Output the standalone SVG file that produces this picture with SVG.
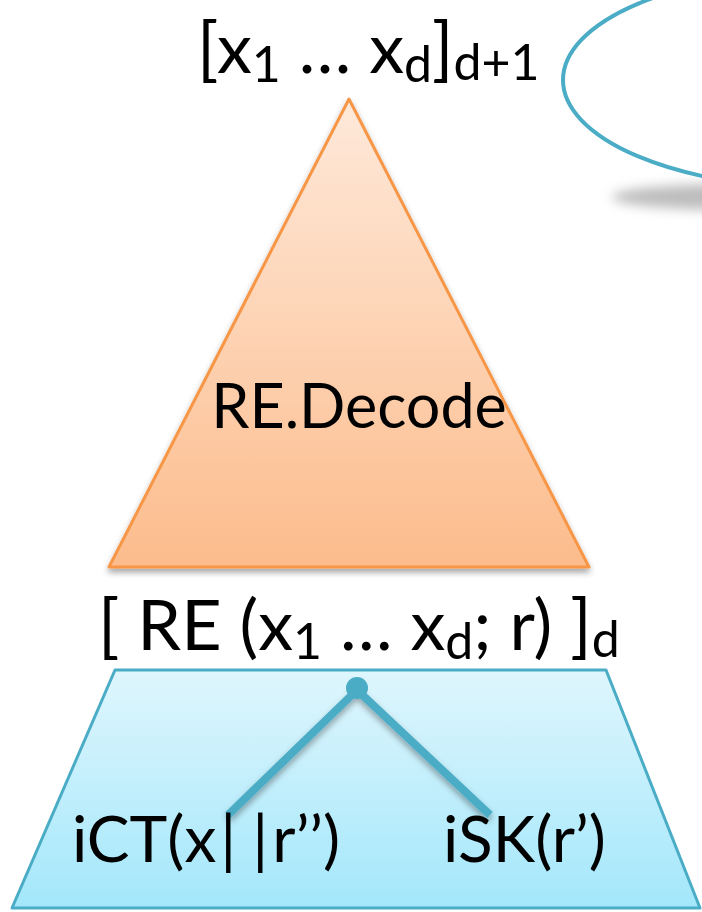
<svg xmlns="http://www.w3.org/2000/svg" width="702" height="912" viewBox="0 0 702 912">
<defs>
<linearGradient id="gOr" x1="0" y1="0" x2="0" y2="1">
<stop offset="0" stop-color="#FEE9DA"/>
<stop offset="1" stop-color="#FCBC8C"/>
</linearGradient>
<linearGradient id="gBl" x1="0" y1="0" x2="0" y2="1">
<stop offset="0" stop-color="#DFF6FD"/>
<stop offset="1" stop-color="#A3E7FB"/>
</linearGradient>
<filter id="sh" x="-10%" y="-10%" width="120%" height="130%">
<feDropShadow dx="0" dy="4" stdDeviation="3" flood-color="#000" flood-opacity="0.35"/>
</filter>
<filter id="blur" x="-50%" y="-100%" width="200%" height="300%">
<feGaussianBlur stdDeviation="6"/>
</filter>
</defs>
<style>
text{font-family:Lato,"Open Sans","Liberation Sans",sans-serif;fill:#000;}
tspan{fill:#000;}
.big{font-size:70px;}
.dec{font-size:61px;}
.leaf{font-size:64px;}
.sub{font-size:50px;}
</style>
<g id="shadowblob">
<ellipse cx="730" cy="197" rx="118" ry="13" fill="#bdbdbd" filter="url(#blur)"/>
</g>
<g id="ellipse">
<ellipse cx="820" cy="80" rx="257" ry="108" fill="none" stroke="#4BACC6" stroke-width="4"/>
</g>
<g id="top-label">
<text class="big" x="197" y="73">[x<tspan class="sub" dy="9">1</tspan><tspan dy="-9"> … x</tspan><tspan class="sub" dy="9">d</tspan><tspan dy="-9">]</tspan><tspan class="sub" dy="7">d+1</tspan></text>
</g>
<g id="decode">
<polygon points="349,99 589,567 109,567" fill="url(#gOr)" stroke="#F79646" stroke-width="3" stroke-linejoin="round" filter="url(#sh)"/>
<text class="dec" x="359" y="428" text-anchor="middle">RE.Decode</text>
</g>
<g id="mid-label">
<text class="big" x="98" y="650">[ RE (x<tspan class="sub" dy="9">1</tspan><tspan dy="-9"> … x</tspan><tspan class="sub" dy="9">d</tspan><tspan dy="-9">; r) ]</tspan><tspan class="sub" dy="7">d</tspan></text>
</g>
<g id="trap">
<polygon points="115,670 606,670 700,908 12,908" fill="url(#gBl)" stroke="#4BACC6" stroke-width="3" stroke-linejoin="round"/>
</g>
<g id="connectors" filter="url(#sh)">
<line x1="357" y1="690" x2="228" y2="815" stroke="#4BACC6" stroke-width="8"/>
<line x1="357" y1="690" x2="490" y2="815" stroke="#4BACC6" stroke-width="8"/>
</g>
<g id="root-node">
<ellipse cx="357" cy="688" rx="11" ry="11" fill="#4BACC6"/>
</g>
<g id="leaf-ict">
<text class="leaf" x="72" y="862">iCT(x<tspan dx="4">|</tspan><tspan dx="16">|</tspan><tspan dx="4">r’’)</tspan></text>
</g>
<g id="leaf-isk">
<text class="leaf" x="443" y="862">iSK(r’)</text>
</g>
</svg>
